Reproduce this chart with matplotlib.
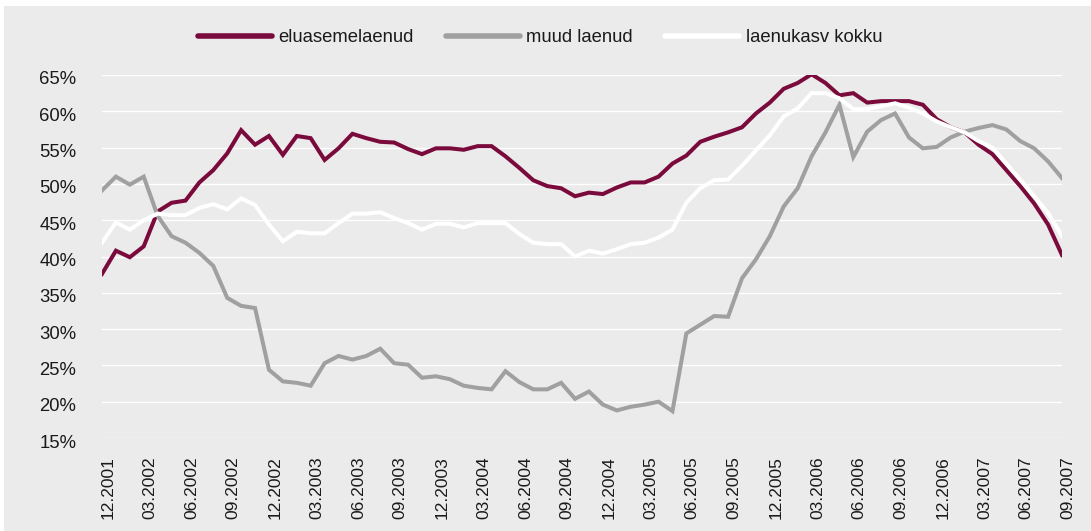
import matplotlib
matplotlib.use("Agg")
import matplotlib.pyplot as plt
import matplotlib.transforms as mtransforms
from matplotlib.patches import Rectangle

plt.rcParams['font.family'] = ['Liberation Sans', 'DejaVu Sans']

eluasemelaenud = [37.6, 40.8, 39.9, 41.4, 46.2, 47.4, 47.7, 50.2, 51.9, 54.2,
                  57.4, 55.4, 56.6, 54.0, 56.6, 56.3, 53.3, 54.9, 56.9, 56.3,
                  55.8, 55.7, 54.8, 54.1, 54.9, 54.9, 54.7, 55.2, 55.2, 53.8,
                  52.2, 50.5, 49.7, 49.4, 48.3, 48.8, 48.6, 49.5, 50.2, 50.2,
                  51.0, 52.8, 53.9, 55.8, 56.5, 57.1, 57.8, 59.7, 61.2, 63.1,
                  63.9, 65.1, 63.9, 62.2, 62.5, 61.2, 61.4, 61.4, 61.4, 60.9,
                  58.9, 57.8, 57.1, 55.4, 54.1, 51.9, 49.7, 47.3, 44.4, 40.2]

muud_laenud = [49.1, 51.0, 49.9, 51.0, 45.6, 42.8, 41.9, 40.5, 38.7, 34.3,
               33.2, 32.9, 24.4, 22.8, 22.6, 22.2, 25.3, 26.3, 25.8, 26.3,
               27.3, 25.3, 25.1, 23.3, 23.5, 23.1, 22.2, 21.9, 21.7, 24.2,
               22.7, 21.7, 21.7, 22.6, 20.4, 21.4, 19.6, 18.8, 19.3, 19.6,
               20.0, 18.7, 29.4, 30.6, 31.8, 31.7, 37.0, 39.6, 42.8, 46.9,
               49.4, 53.8, 57.1, 60.9, 53.7, 57.2, 58.8, 59.7, 56.4, 54.9,
               55.1, 56.4, 57.2, 57.7, 58.1, 57.5, 55.9, 54.9, 53.1, 50.8]

laenukasv_kokku = [41.9, 44.7, 43.7, 45.0, 45.9, 45.7, 45.7, 46.7, 47.2, 46.5,
                   48.0, 47.1, 44.4, 42.1, 43.4, 43.2, 43.2, 44.6, 45.9, 45.9,
                   46.1, 45.3, 44.6, 43.7, 44.5, 44.5, 44.0, 44.6, 44.6, 44.6,
                   43.1, 41.9, 41.7, 41.7, 40.0, 40.8, 40.4, 41.0, 41.7, 41.9,
                   42.6, 43.7, 47.4, 49.4, 50.5, 50.6, 52.5, 54.6, 56.7, 59.3,
                   60.4, 62.5, 62.5, 61.8, 60.3, 60.3, 60.7, 61.1, 60.5, 59.7,
                   58.6, 57.8, 57.1, 55.9, 55.0, 52.8, 50.6, 48.3, 46.0, 42.8]

tick_labels = ['12.2001', '03.2002', '06.2002', '09.2002', '12.2002', '03.2003',
               '06.2003', '09.2003', '12.2003', '03.2004', '06.2004', '09.2004',
               '12.2004', '03.2005', '06.2005', '09.2005', '12.2005', '03.2006',
               '06.2006', '09.2006', '12.2006', '03.2007', '06.2007', '09.2007']

y_ticks = [15, 20, 25, 30, 35, 40, 45, 50, 55, 60, 65]

BG = '#ebebeb'
W, H = 1091, 531
fig = plt.figure(figsize=(W / 100, H / 100), dpi=100, facecolor='white')
fig.patches.append(Rectangle((4 / W, 0), 1 - 4 / W, 1 - 6 / H,
                             transform=fig.transFigure, facecolor=BG,
                             edgecolor='none', zorder=-10))

left, right = 102 / W, 1062 / W
top, bottom = 1 - 75 / H, 1 - 438 / H
ax = fig.add_axes([left, bottom, right - left, top - bottom])
ax.set_facecolor(BG)
ax.patch.set_alpha(0)

x = list(range(len(eluasemelaenud)))
lw = 2.9
ax.plot(x, eluasemelaenud, color='#7b0a3c', lw=lw, label='eluasemelaenud',
        solid_joinstyle='miter', zorder=3)
ax.plot(x, muud_laenud, color='#a0a0a0', lw=lw, label='muud laenud',
        solid_joinstyle='miter', zorder=3)
ax.plot(x, laenukasv_kokku, color='#ffffff', lw=lw, label='laenukasv kokku',
        solid_joinstyle='miter', zorder=3)

ax.set_xlim(0, len(x) - 1)
ax.set_ylim(15, 65)
ax.set_yticks(y_ticks)
ax.set_yticklabels([f'{v}%' for v in y_ticks], fontsize=13.3, color='#1a1a1a')
ax.set_xticks(x[::3])
ax.set_xticklabels(tick_labels, rotation=90, fontsize=12.5, color='#1a1a1a')
ax.tick_params(axis='both', length=0)
ax.tick_params(axis='y', pad=18.5)
ax.tick_params(axis='x', pad=13)
xoff = mtransforms.ScaledTranslation(6 / 100, 0, fig.dpi_scale_trans)
for lab in ax.get_xticklabels():
    lab.set_transform(lab.get_transform() + xoff)
yoff = mtransforms.ScaledTranslation(0, -3 / 100, fig.dpi_scale_trans)
for lab in ax.get_yticklabels():
    lab.set_transform(lab.get_transform() + yoff)

for v in y_ticks:
    ax.axhline(v, color='white', lw=1.0, zorder=1)
for s in ax.spines.values():
    s.set_visible(False)

leg = fig.legend(loc='center', bbox_to_anchor=(540 / W, 1 - 38 / H), ncol=3,
                 frameon=False, fontsize=13.3, handlelength=4.0,
                 handletextpad=0.35, columnspacing=1.75)
for t in leg.get_texts():
    t.set_color('#1a1a1a')
for h in leg.get_lines():
    h.set_linewidth(4)
    h.set_solid_capstyle('round')

fig.savefig('out.png', dpi=100, facecolor='white')
